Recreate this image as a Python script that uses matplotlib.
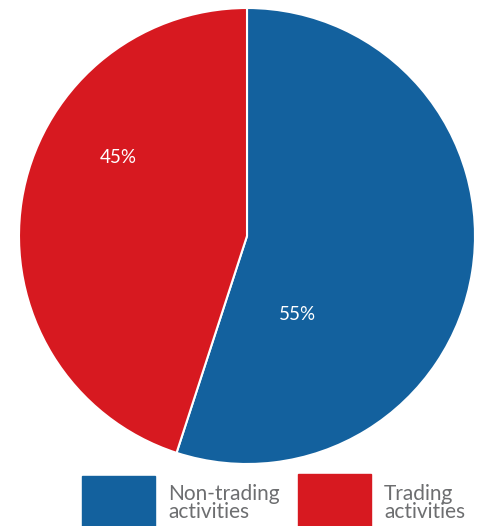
import matplotlib.pyplot as plt
from matplotlib.patches import Rectangle

# Share of activities
labels = ['Non-trading\nactivities', 'Trading\nactivities']
shares = [55, 45]
colors = ['#13619e', '#d71920']
# where the percentage labels sit (in unit-circle coords)
label_pos = [(0.22, -0.345), (-0.565, 0.345)]

W, H = 479.0, 526.0
cx, cy, r = 247, 236, 228

fig = plt.figure(figsize=(4.79, 5.26), dpi=100)
ax = fig.add_axes([(cx - r) / W, 1 - (cy + r) / H, 2 * r / W, 2 * r / H])

wedges, texts, autotexts = ax.pie(
    shares, colors=colors, startangle=90, counterclock=False,
    autopct='%d%%', radius=1.0,
    wedgeprops=dict(edgecolor='white', linewidth=1.5),
    textprops=dict(color='white', fontsize=13.5, family='Lato'))
for t, (x, y) in zip(autotexts, label_pos):
    t.set_position((x, y))
    t.set_ha('center')
    t.set_va('center')

ax.set_xlim(-1.0, 1.0)
ax.set_ylim(-1.0, 1.0)
ax.set_aspect('equal')
ax.axis('off')

# legend boxes along the bottom
boxes = [(82, 476, 155, 526), (298, 474, 371, 526)]
text_x = [168, 384]
for (x0, y0, x1, y1), tx, lab, c in zip(boxes, text_x, labels, colors):
    fig.patches.append(Rectangle((x0 / W, 1 - y1 / H), (x1 - x0) / W, (y1 - y0) / H,
                                 transform=fig.transFigure, color=c, zorder=1))
    fig.text(tx / W, 1 - 503 / H, lab, color='#6d6e70', fontsize=15,
             family='Lato', ha='left', va='center', linespacing=0.9)

fig.savefig('out.png', dpi=100)
